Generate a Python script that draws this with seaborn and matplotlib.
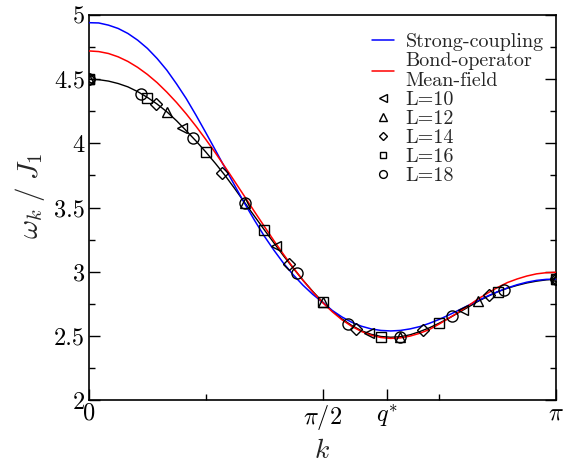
import numpy as np
import matplotlib
matplotlib.use("Agg")
import matplotlib.pyplot as plt
import seaborn as sns

# ---------------- data ----------------
# momentum grid of the continuous curves, in units of pi (step pi/48)
curve_k_over_pi = np.linspace(0.0, 1.0, 49)

strong_coupling = [4.940, 4.938, 4.921, 4.895, 4.856, 4.804, 4.740, 4.661,
                   4.570, 4.463, 4.348, 4.219, 4.084, 3.946, 3.806, 3.668,
                   3.531, 3.402, 3.279, 3.168, 3.065, 2.975, 2.894, 2.823,
                   2.762, 2.698, 2.647, 2.606, 2.575, 2.554, 2.542, 2.538,
                   2.542, 2.554, 2.572, 2.598, 2.628, 2.663, 2.700, 2.738,
                   2.775, 2.811, 2.844, 2.873, 2.898, 2.918, 2.932, 2.940,
                   2.942]
bond_operator = [4.720, 4.715, 4.700, 4.674, 4.638, 4.592, 4.537, 4.473,
                 4.399, 4.318, 4.229, 4.133, 4.031, 3.925, 3.814, 3.700,
                 3.585, 3.469, 3.355, 3.242, 3.134, 3.030, 2.932, 2.842,
                 2.760, 2.688, 2.625, 2.574, 2.534, 2.505, 2.487, 2.480,
                 2.484, 2.498, 2.520, 2.550, 2.592, 2.638, 2.685, 2.735,
                 2.788, 2.834, 2.877, 2.915, 2.943, 2.966, 2.983, 2.992,
                 2.995]
guide_line = [4.500, 4.496, 4.485, 4.466, 4.440, 4.403, 4.358, 4.306,
              4.246, 4.176, 4.098, 4.018, 3.933, 3.843, 3.748, 3.645,
              3.538, 3.433, 3.328, 3.225, 3.123, 3.026, 2.933, 2.846,
              2.765, 2.694, 2.632, 2.581, 2.540, 2.512, 2.495, 2.489,
              2.493, 2.508, 2.533, 2.563, 2.599, 2.638, 2.681, 2.725,
              2.769, 2.808, 2.843, 2.871, 2.893, 2.912, 2.926, 2.936,
              2.941]

# finite-size data: k in units of pi
L10_k = [0, 1/5, 2/5, 3/5, 4/5, 1]
L10_w = [4.50, 4.122, 3.203, 2.520, 2.699, 2.941]
L12_k = [0, 1/6, 2/6, 3/6, 4/6, 5/6, 1]
L12_w = [4.50, 4.242, 3.533, 2.762, 2.494, 2.772, 2.941]
L14_k = [0, 1/7, 2/7, 3/7, 4/7, 5/7, 6/7, 1]
L14_w = [4.50, 4.310, 3.767, 3.060, 2.553, 2.546, 2.818, 2.941]
L16_k = [0, 1/8, 2/8, 3/8, 4/8, 5/8, 6/8, 7/8, 1]
L16_w = [4.50, 4.352, 3.930, 3.325, 2.762, 2.489, 2.603, 2.842, 2.941]
L18_k = [0, 1/9, 2/9, 3/9, 4/9, 5/9, 6/9, 7/9, 8/9, 1]
L18_w = [4.50, 4.383, 4.040, 3.533, 2.988, 2.592, 2.494, 2.657, 2.857, 2.941]

x_tick_pos = [0.0, 0.5, 0.6382, 1.0]      # in units of pi
x_tick_labels = ["0", r"$\pi/2$", r"$q^{*}$", r"$\pi$"]
x_minor_pos = [0.25, 0.75]
y_ticks = [2, 2.5, 3, 3.5, 4, 4.5, 5]
y_tick_labels = ["2", "2.5", "3", "3.5", "4", "4.5", "5"]

# ---------------- style ----------------
sns.set_theme(style="white")
plt.rcParams["font.family"] = ["cmr10", "DejaVu Serif"]
plt.rcParams["mathtext.fontset"] = "cm"
plt.rcParams["axes.unicode_minus"] = False
plt.rcParams["axes.formatter.use_mathtext"] = True

fig = plt.figure(figsize=(5.65, 4.66), dpi=100)
ax = fig.add_axes([89/565, 1-400/466, (556-89)/565, (400-15)/466])

kc = np.asarray(curve_k_over_pi) * np.pi

sns.lineplot(x=kc, y=guide_line, ax=ax, color="black", lw=1.0, zorder=3)
sns.lineplot(x=kc, y=strong_coupling, ax=ax, color="#0000ff", lw=1.1,
             label="Strong-coupling", zorder=4)
sns.lineplot(x=kc, y=bond_operator, ax=ax, color="#ff0000", lw=1.1,
             label="Bond-operator\nMean-field", zorder=4)

series = [(L10_k, L10_w, "<", 7.5, "L=10"),
          (L12_k, L12_w, "^", 7.5, "L=12"),
          (L14_k, L14_w, "D", 5.8, "L=14"),
          (L16_k, L16_w, "s", 7.0, "L=16"),
          (L18_k, L18_w, "o", 8.0, "L=18")]
for kk, ww, m, ms, lab in series:
    sns.lineplot(x=np.asarray(kk) * np.pi, y=ww, ax=ax, marker=m, ms=ms,
                 linestyle="", markerfacecolor="none",
                 markeredgecolor="black", mew=1.0, color="black",
                 label=lab, zorder=5)

ax.set_xlim(0, np.pi)
ax.set_ylim(2, 5)
ax.set_xticks(np.asarray(x_tick_pos) * np.pi)
ax.set_xticklabels(x_tick_labels)
ax.set_xticks(np.asarray(x_minor_pos) * np.pi, minor=True)
ax.set_yticks(y_ticks)
ax.set_yticklabels(y_tick_labels)
ax.set_yticks(np.arange(2.25, 5.0, 0.5), minor=True)

ax.tick_params(axis="both", which="both", direction="in", colors="black",
               labelsize=17.5, top=False, right=True, bottom=True, left=True)
ax.tick_params(which="major", length=8, width=1.0)
ax.tick_params(which="minor", length=4.5, width=1.0)
ax.tick_params(axis="y", pad=3)
ax.tick_params(axis="x", pad=2)

for sp in ax.spines.values():
    sp.set_color("black")
    sp.set_linewidth(1.2)

ax.set_xlabel(r"$k$", fontsize=20)
ax.xaxis.set_label_coords(0.5, -0.097)
ax.set_ylabel(r"$\omega_{k}\;/\;J_{1}$", fontsize=21)
ax.yaxis.set_label_coords(-0.09, 0.53)

leg = ax.legend(loc="upper right", bbox_to_anchor=(0.995, 0.98),
                frameon=False, fontsize=14.5, handlelength=1.1,
                handletextpad=0.55, labelspacing=0.04, borderpad=0,
                markerscale=0.7)

fig.savefig("out.png", dpi=100, facecolor="white")
